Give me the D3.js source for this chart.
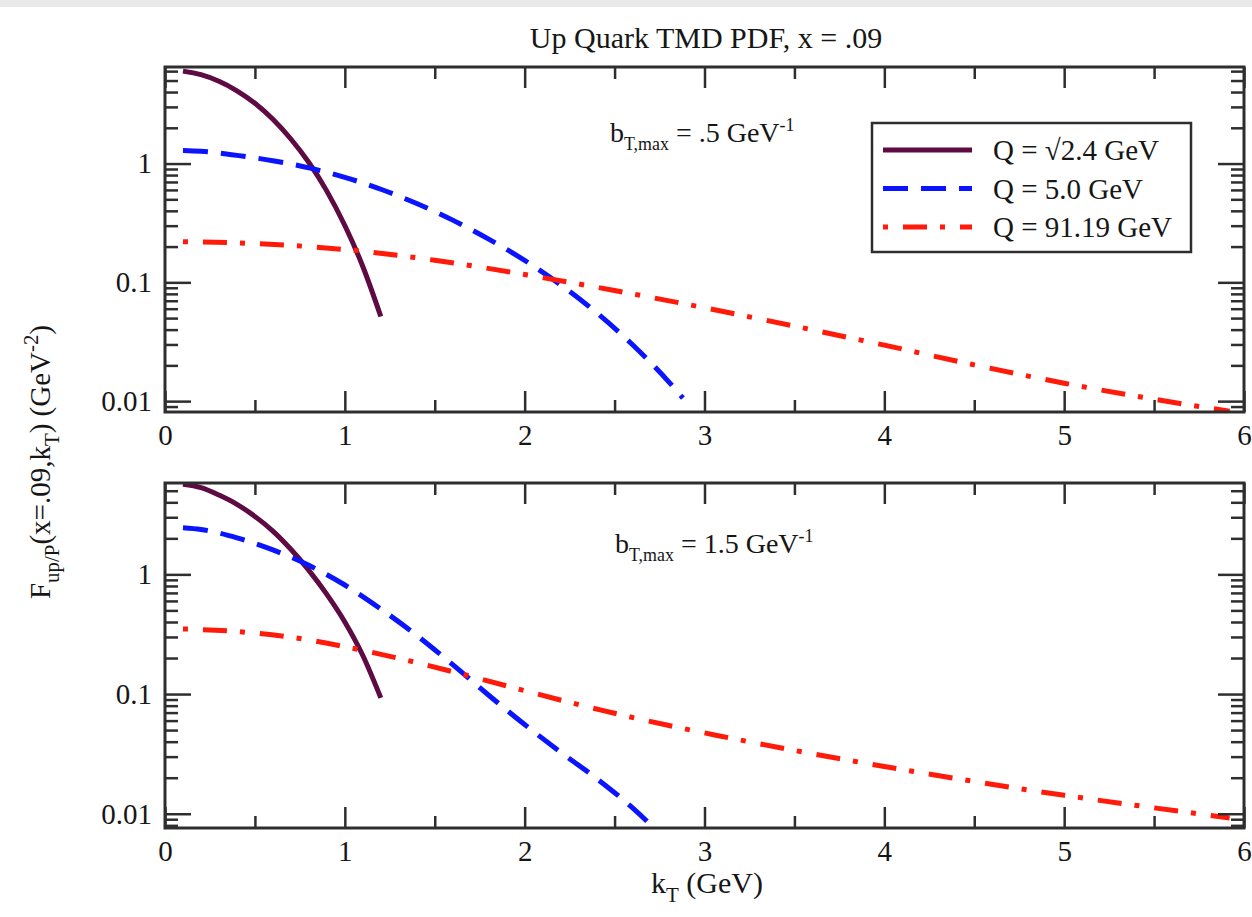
<!DOCTYPE html>
<html>
<head>
<meta charset="utf-8">
<script src="https://cdn.jsdelivr.net/npm/d3@7"></script>
<style>
body { margin: 0; background: #fff; }
text { font-family: "Liberation Serif", "Times New Roman", serif; fill: #161616; }
.axis path { display: none; }
.axis line { stroke: #2e2e2e; stroke-width: 2.5; }
.frame { fill: none; stroke: #2e2e2e; stroke-width: 3; }
</style>
</head>
<body>
<svg id="chart" width="1252" height="917"></svg>
<script>
// ---- data ----
const xTicks = [0, 1, 2, 3, 4, 5, 6];
const xMinor = [0.5, 1.5, 2.5, 3.5, 4.5, 5.5];
const yTicks = [0.01, 0.1, 1];
const yTickLabels = ["0.01", "0.1", "1"];

// top panel, bT,max = .5
const kTopSolid = [0.1, 0.2, 0.3, 0.4, 0.5, 0.6, 0.7, 0.8, 0.9, 1.0, 1.1, 1.2];
const fTopSolid = [6.0, 5.6, 4.93, 4.1, 3.22, 2.36, 1.61, 1.02, 0.586, 0.301, 0.136, 0.0516];
const kTopDash = [0.1, 0.2, 0.4, 0.6, 0.8, 1.0, 1.2, 1.4, 1.6, 1.8, 2.0, 2.2, 2.4, 2.6, 2.8, 2.88];
const fTopDash = [1.29, 1.27, 1.172, 1.057, 0.92, 0.766, 0.608, 0.461, 0.334, 0.231, 0.153, 0.0953, 0.0555, 0.0298, 0.0146, 0.0106];
const kTopDot = [0.1, 0.5, 1.0, 1.5, 2.0, 2.5, 3.0, 3.5, 4.0, 4.5, 5.0, 5.5, 5.92];
const fTopDot = [0.22, 0.212, 0.189, 0.1535, 0.1164, 0.0853, 0.0611, 0.0428, 0.0296, 0.0202, 0.01416, 0.01038, 0.00822];

// bottom panel, bT,max = 1.5
const kBotSolid = [0.1, 0.2, 0.3, 0.4, 0.5, 0.6, 0.7, 0.8, 0.9, 1.0, 1.1, 1.2];
const fBotSolid = [5.65, 5.3, 4.6, 3.85, 3.05, 2.3, 1.62, 1.08, 0.68, 0.40, 0.21, 0.093];
const kBotDash = [0.1, 0.2, 0.4, 0.6, 0.8, 1.0, 1.2, 1.4, 1.6, 1.8, 2.0, 2.2, 2.4, 2.6, 2.7, 2.75];
const fBotDash = [2.45, 2.37, 2.02, 1.60, 1.19, 0.815, 0.514, 0.309, 0.176, 0.0977, 0.0556, 0.0327, 0.0197, 0.0112, 0.0081, 0.0068];
const kBotDot = [0.1, 0.4, 0.75, 1.08, 1.4, 1.7, 2.05, 2.42, 2.79, 3.07, 3.5, 4.0, 4.5, 5.0, 5.5, 5.92];
const fBotDot = [0.35, 0.333, 0.291, 0.235, 0.183, 0.1406, 0.1019, 0.0737, 0.0551, 0.0451, 0.0338, 0.0248, 0.0186, 0.01426, 0.0112, 0.00923];

const legendNames = ["Q = \u221A2.4 GeV", "Q = 5.0 GeV", "Q = 91.19 GeV"];

// ---- styles ----
const styles = [
    {color: "#5e0b43", dash: null},
    {color: "#0a14ff", dash: "25,13"},
    {color: "#ff1a0a", dash: "5,15,24,13"},
];

const svg = d3.select("#chart");
svg.append("rect").attr("x", 0).attr("y", 0).attr("width", 1252).attr("height", 7).attr("fill", "#e9e9e9");

const left = 165, right = 1244;
const x = d3.scaleLinear().domain([0, 6]).range([left, right]);

const panels = [
    {top: 67, bottom: 412, domain: [0.0081, 6.5],
     series: [[kTopSolid, fTopSolid], [kTopDash, fTopDash], [kTopDot, fTopDot]], note: {x: 610, y: 142, v: ".5"}},
    {top: 483, bottom: 828, domain: [0.0076, 5.8],
     series: [[kBotSolid, fBotSolid], [kBotDash, fBotDash], [kBotDot, fBotDot]], note: {x: 615, y: 553, v: "1.5"}},
];

// text with sub/superscripts
const rich = function (sel, parts, size, small) {
    let shift = 0;
    parts.forEach(function (p) {
        const target = p[1] === "sub" ? size * 0.3 : (p[1] === "sup" ? -size * 0.4 : 0);
        sel.append("tspan")
            .attr("dy", target - shift)
            .attr("font-size", p[1] ? size * (small || 0.64) : size)
            .text(p[0]);
        shift = target;
    });
};

const minorLog = function (dom) {
    let out = [];
    for (let e = -3; e <= 1; e++) {
        for (let m = 2; m <= 9; m++) {
            const v = m * Math.pow(10, e);
            if (v > dom[0] && v < dom[1]) out.push(v);
        }
    }
    return out;
};

panels.forEach(function (p, pi) {
    const y = d3.scaleLog().domain(p.domain).range([p.bottom, p.top]);
    const g = svg.append("g");

    // clip
    const clipId = "clip" + pi;
    svg.append("clipPath").attr("id", clipId).append("rect")
        .attr("x", left).attr("y", p.top).attr("width", right - left).attr("height", p.bottom - p.top);

    // curves
    const line = d3.line()
        .x(function (d) { return x(d[0]); })
        .y(function (d) { return y(d[1]); })
        .curve(d3.curveMonotoneX);

    p.series.forEach(function (s, i) {
        const pts = s[0].map(function (k, j) { return [k, s[1][j]]; });
        g.append("path")
            .datum(pts)
            .attr("clip-path", "url(#" + clipId + ")")
            .attr("fill", "none")
            .attr("stroke", styles[i].color)
            .attr("stroke-width", 5)
            .attr("stroke-dasharray", styles[i].dash)
            .attr("d", line);
    });

    // axes, ticks pointing inward on all four sides
    g.append("g").attr("class", "axis").attr("transform", "translate(0," + p.bottom + ")")
        .call(d3.axisBottom(x).tickValues(xTicks).tickSize(-21).tickSizeOuter(0).tickPadding(12)
            .tickFormat(d3.format("d")))
        .selectAll("text").attr("font-size", 29).attr("font-family", null);
    g.append("g").attr("class", "axis").attr("transform", "translate(0," + p.bottom + ")")
        .call(d3.axisBottom(x).tickValues(xMinor).tickSize(-12).tickSizeOuter(0).tickFormat(""));
    g.append("g").attr("class", "axis").attr("transform", "translate(0," + p.top + ")")
        .call(d3.axisTop(x).tickValues(xTicks).tickSize(-21).tickSizeOuter(0).tickFormat(""));
    g.append("g").attr("class", "axis").attr("transform", "translate(0," + p.top + ")")
        .call(d3.axisTop(x).tickValues(xMinor).tickSize(-12).tickSizeOuter(0).tickFormat(""));

    g.append("g").attr("class", "axis").attr("transform", "translate(" + left + ",0)")
        .call(d3.axisLeft(y).tickValues(yTicks).tickSize(-26).tickSizeOuter(0).tickPadding(13)
            .tickFormat(function (d, i) { return yTickLabels[i]; }))
        .selectAll("text").attr("font-size", 29).attr("font-family", null);
    g.append("g").attr("class", "axis").attr("transform", "translate(" + left + ",0)")
        .call(d3.axisLeft(y).tickValues(minorLog(p.domain)).tickSize(-13).tickSizeOuter(0).tickFormat(""));
    g.append("g").attr("class", "axis").attr("transform", "translate(" + right + ",0)")
        .call(d3.axisRight(y).tickValues(yTicks).tickSize(-26).tickSizeOuter(0).tickFormat(""));
    g.append("g").attr("class", "axis").attr("transform", "translate(" + right + ",0)")
        .call(d3.axisRight(y).tickValues(minorLog(p.domain)).tickSize(-13).tickSizeOuter(0).tickFormat(""));

    g.append("rect").attr("class", "frame")
        .attr("x", left).attr("y", p.top).attr("width", right - left).attr("height", p.bottom - p.top);

    // b_T,max note
    const note = g.append("text").attr("x", p.note.x).attr("y", p.note.y);
    rich(note, [["b", ""], ["T,max", "sub"], [" = " + p.note.v + " GeV", ""], ["-1", "sup"]], 28);
});

// legend
const lg = svg.append("g");
lg.append("rect").attr("x", 872).attr("y", 123).attr("width", 319).attr("height", 129)
    .attr("fill", "#fff").attr("stroke", "#2e2e2e").attr("stroke-width", 2.5);
legendNames.forEach(function (name, i) {
    const yy = 150 + i * 38.5;
    lg.append("line").attr("x1", 883).attr("x2", 972).attr("y1", yy).attr("y2", yy)
        .attr("stroke", styles[i].color).attr("stroke-width", 5)
        .attr("stroke-dasharray", styles[i].dash);
    lg.append("text").attr("x", 993).attr("y", yy + 10).attr("font-size", 29).text(name);
});

// title and axis labels
svg.append("text").attr("x", 706).attr("y", 48).attr("text-anchor", "middle")
    .attr("font-size", 30).text("Up Quark TMD PDF, x = .09");

const xl = svg.append("text").attr("x", 707).attr("y", 893).attr("text-anchor", "middle");
rich(xl, [["k", ""], ["T", "sub"], [" (GeV)", ""]], 30, 0.7);

const yl = svg.append("text").attr("text-anchor", "middle")
    .attr("transform", "translate(50,462) rotate(-90)");
rich(yl, [["F", ""], ["up/P", "sub"], ["(x=.09,k", ""], ["T", "sub"], [") (GeV", ""], ["-2", "sup"], [")", ""]], 29, 0.72);
</script>
</body>
</html>
